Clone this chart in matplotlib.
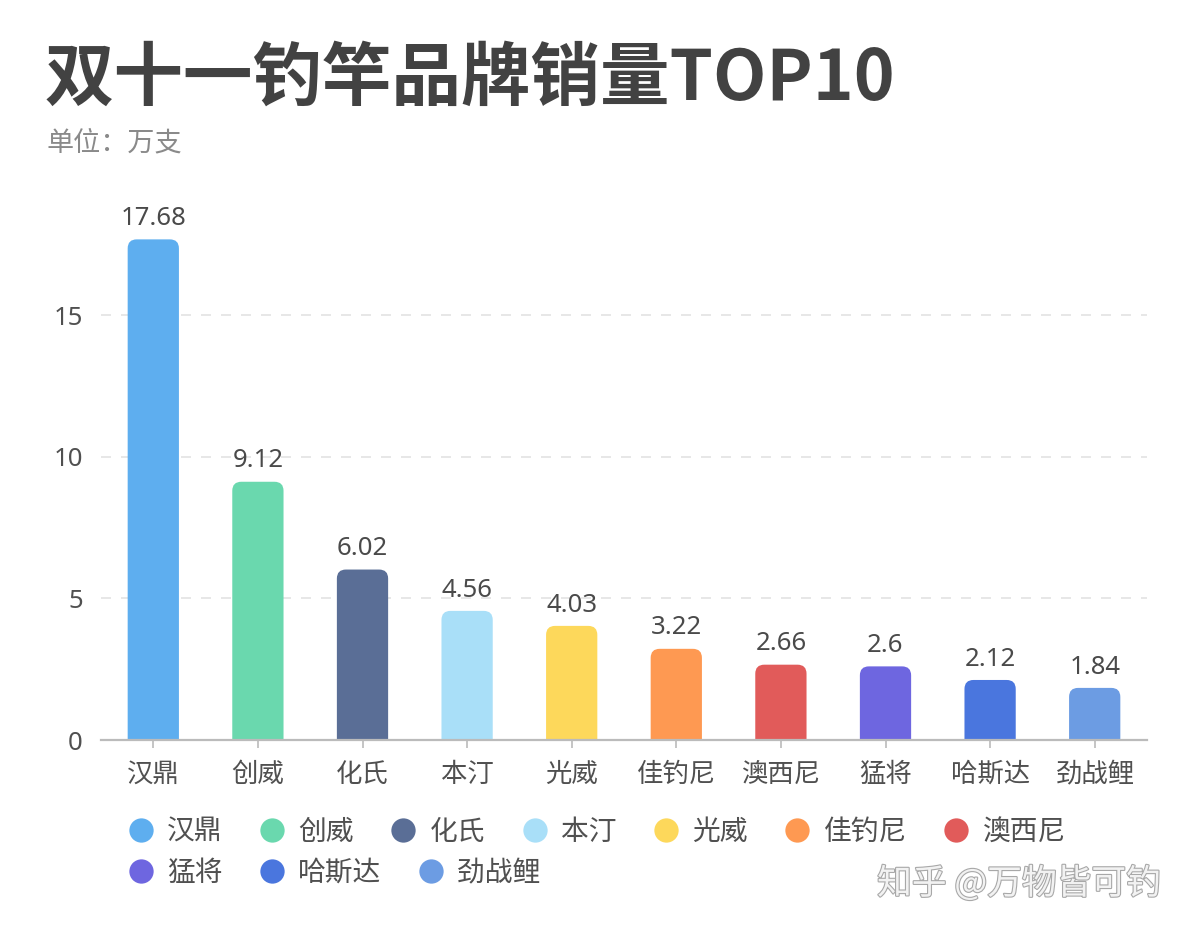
import matplotlib
matplotlib.use("Agg")
import matplotlib.pyplot as plt
from matplotlib.patches import FancyBboxPatch
from matplotlib.lines import Line2D
import matplotlib.patheffects as pe

plt.rcParams['font.family'] = ['Noto Sans CJK SC', 'DejaVu Sans']
num_font = ['Noto Sans', 'Noto Sans CJK SC']

# data
brands = ['汉鼎', '创威', '化氏', '本汀', '光威', '佳钓尼', '澳西尼', '猛将', '哈斯达', '劲战鲤']
sales = [17.68, 9.12, 6.02, 4.56, 4.03, 3.22, 2.66, 2.6, 2.12, 1.84]
value_labels = ['17.68', '9.12', '6.02', '4.56', '4.03', '3.22', '2.66', '2.6', '2.12', '1.84']
colors = ['#5EAEEF', '#6AD8AE', '#5A6E96', '#A9DFF8', '#FDD85B',
          '#FE9952', '#E15B5A', '#6E66E0', '#4A76DE', '#6C9CE3']
yticks = [0, 5, 10, 15]

W, H = 1192, 930
fig = plt.figure(figsize=(W / 100, H / 100), dpi=100)
ax = fig.add_axes([101 / W, 1 - 740 / H, 1046 / W, 538 / H])
ax.set_xlim(-0.5, len(brands) - 0.5)
ax.set_ylim(0, 19)

# px per data unit, for rounded bar tops
p0 = ax.transData.transform((0, 0))
p1 = ax.transData.transform((1, 1))
px_x = p1[0] - p0[0]
px_y = p1[1] - p0[1]
aspect = px_x / px_y
bar_w = 0.49
radius = 9 / px_x

for i, v in enumerate(sales):
    patch = FancyBboxPatch((i - bar_w / 2, -1), bar_w, v + 1,
                           boxstyle=f"round,pad=0,rounding_size={radius}",
                           mutation_aspect=aspect, facecolor=colors[i],
                           edgecolor='none', zorder=2)
    ax.add_patch(patch)
    ax.annotate(value_labels[i], (i, v), xytext=(0, 6), textcoords='offset points',
                ha='center', va='bottom', fontsize=18.5, color='#4a4a4a',
                family=num_font)

ax.set_xticks(range(len(brands)))
ax.set_xticklabels(brands, fontsize=19, color='#505050')
ax.set_yticks(yticks)
ax.set_yticklabels([str(t) for t in yticks], fontsize=18.5, color='#505050',
                   family=num_font)
ax.tick_params(axis='x', length=6, width=1.2, color='#bbbbbb', pad=9)
ax.tick_params(axis='y', length=0, pad=13)
ax.grid(axis='y', linestyle=(0, (6, 6)), color='#e3e3e3', linewidth=1.2, zorder=0)
ax.set_axisbelow(True)
for s in ['top', 'right', 'left']:
    ax.spines[s].set_visible(False)
ax.spines['bottom'].set_color('#bbbbbb')
ax.spines['bottom'].set_linewidth(1.6)

# titles
fig.text(45 / W, 1 - 100 / H, '双十一钓竿品牌销量TOP10', fontsize=50, fontweight='bold',
         color='#424242', ha='left', va='baseline')
fig.text(47 / W, 1 - 150 / H, '单位：万支', fontsize=19.5, color='#8a8a8a',
         ha='left', va='baseline')

# legend in two rows
handles = [Line2D([], [], marker='o', linestyle='none', markersize=17.5,
                  markerfacecolor=c, markeredgecolor='none') for c in colors]
leg_kw = dict(frameon=False, fontsize=20, handlelength=0.9, handletextpad=0.5,
              columnspacing=1.33, borderpad=0, borderaxespad=0, labelcolor='#505050',
              loc='center left')
leg1 = fig.legend(handles[:7], brands[:7], ncol=7,
                  bbox_to_anchor=(128 / W, 1 - 832 / H), **leg_kw)
leg2 = fig.legend(handles[7:], brands[7:], ncol=3,
                  bbox_to_anchor=(128 / W, 1 - 873 / H), **leg_kw)

# watermark
fig.text(1161 / W, 1 - 894 / H, '知乎 @万物皆可钓', fontsize=25, color='#f2f2f2',
         ha='right', va='baseline',
         path_effects=[pe.withStroke(linewidth=1.6, foreground='#a8a8a8')])

fig.savefig('out.png', dpi=100, facecolor='white')
